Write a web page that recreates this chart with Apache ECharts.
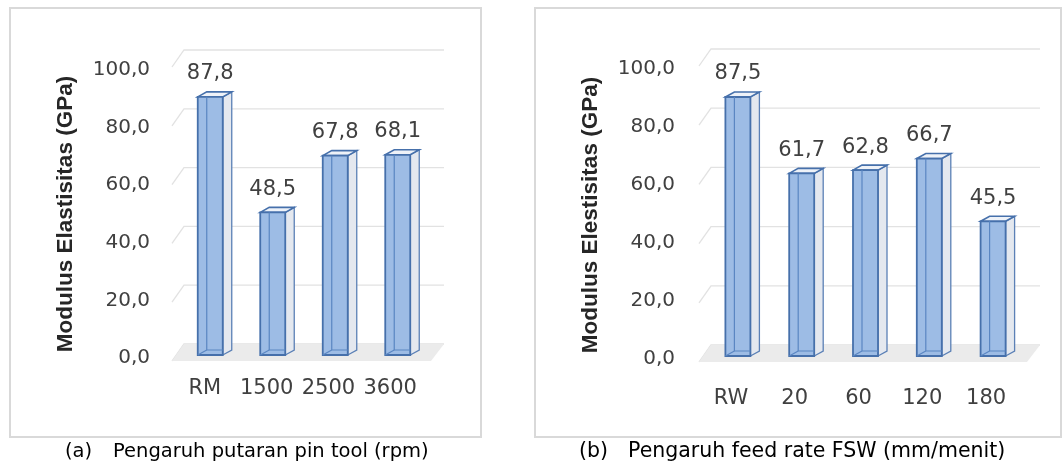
<!DOCTYPE html>
<html>
<head>
<meta charset="utf-8">
<script src="https://cdn.jsdelivr.net/npm/echarts@6/dist/echarts.min.js"></script>
<style>
html,body{margin:0;padding:0;background:#fff;}
#c{width:1062px;height:466px;}
</style>
</head>
<body>
<div id="c"></div>
<script>
// ---- data ----
const catsA = ['RM', '1500', '2500', '3600'];
const valsA = [87.8, 48.5, 67.8, 68.1];
const catsB = ['RW', '20', '60', '120', '180'];
const valsB = [87.5, 61.7, 62.8, 66.7, 45.5];
const yTicks = [0, 20, 40, 60, 80, 100];
const yMin = 0, yMax = 100, yStep = 20;
const titleA = 'Modulus Elastisitas (GPa)';
const titleB = 'Modulus Elestisitas (GPa)';
const capA = ['(a)', 'Pengaruh putaran pin tool (rpm)'];
const capB = ['(b)', 'Pengaruh feed rate FSW (mm/menit)'];

// ---- style ----
const NUMFONT = 'DejaVu Sans';
const TXT = '#404040';
const fmt = v => Number(v).toFixed(1).replace('.', ',');

function renderFloor(params, api) {
  const cs = params.coordSys;
  const y0 = api.coord([0, 0])[1];
  const L = cs.x, R = cs.x + cs.width;
  return {
    type: 'polygon',
    shape: { points: [[L - 7, y0 + 6], [R + 2, y0 + 6], [R + 15, y0 - 11], [L + 5, y0 - 11]] },
    style: { fill: '#ebebeb', stroke: null }
  };
}

function renderGrid(params, api) {
  const cs = params.coordSys;
  const y = api.coord([0, api.value(1)])[1];
  const L = cs.x, R = cs.x + cs.width;
  return {
    type: 'polyline',
    shape: { points: [[L - 7, y + 6], [L + 5, y - 11], [R + 15, y - 11]] },
    style: { stroke: '#e2e2e2', lineWidth: 1.3, fill: null }
  };
}

function renderBar(params, api) {
  const i = api.value(0), v = api.value(1);
  const top = api.coord([i, v]);
  const base = api.coord([i, 0]);
  const c = top[0], yT = top[1], y0 = base[1];
  const hw = 12.5, dx = 9, dy = 5;
  const L = c - hw, R = c + hw;
  const blue = '#4670ab';
  return {
    type: 'group',
    children: [
      { type: 'polygon', shape: { points: [[R, yT], [R + dx, yT - dy], [R + dx, y0 - dy], [R, y0]] },
        style: { fill: '#e4e8ef', stroke: '#5b80b6', lineWidth: 1.3 } },
      { type: 'polygon', shape: { points: [[L, yT], [L + dx, yT - dy], [R + dx, yT - dy], [R, yT]] },
        style: { fill: '#eef2f8', stroke: blue, lineWidth: 1.6 } },
      { type: 'rect', shape: { x: L, y: yT, width: 2 * hw, height: y0 - yT },
        style: { fill: '#9dbce5', stroke: blue, lineWidth: 1.8 } },
      { type: 'polyline', shape: { points: [[L + dx, yT], [L + dx, y0 - dy], [R, y0 - dy]] },
        style: { stroke: '#5a86c2', lineWidth: 1.2, fill: null } },
      { type: 'line', shape: { x1: L, y1: y0, x2: L + dx, y2: y0 - dy },
        style: { stroke: '#5a86c2', lineWidth: 1.2 } },
      { type: 'text', style: { text: fmt(v), x: c, y: yT - 23, align: 'center', verticalAlign: 'middle',
        fontSize: 21, fontFamily: NUMFONT, fill: TXT } }
    ]
  };
}

function labelAxes(cats, xi, margin) {
  return {
    gridIndex: xi, type: 'category', data: cats,
    axisLine: { show: false }, axisTick: { show: false }, splitLine: { show: false },
    axisLabel: { margin: margin, fontSize: 21, fontFamily: NUMFONT, color: TXT, interval: 0 }
  };
}
function labelY(gi) {
  return {
    gridIndex: gi, type: 'value', min: yMin, max: yMax, interval: yStep,
    axisLine: { show: false }, axisTick: { show: false }, splitLine: { show: false },
    axisLabel: { margin: 24, fontSize: 20, fontFamily: NUMFONT, color: TXT, formatter: fmt }
  };
}
function hiddenY(gi) {
  return { gridIndex: gi, type: 'value', min: yMin, max: yMax, interval: yStep, show: false, splitLine: { show: false } };
}

const chart = echarts.init(document.getElementById('c'), null, { renderer: 'canvas' });
chart.setOption({
  animation: false,
  backgroundColor: '#ffffff',
  grid: [
    { left: 179, top: 61, width: 250, height: 294 },
    { left: 174, top: 70, width: 247, height: 288 },
    { left: 706, top: 60, width: 319, height: 296 },
    { left: 699, top: 69, width: 319, height: 290 }
  ],
  xAxis: [
    { gridIndex: 0, type: 'category', data: catsA, show: false },
    labelAxes(catsA, 1, 20),
    { gridIndex: 2, type: 'category', data: catsB, show: false },
    labelAxes(catsB, 3, 29)
  ],
  yAxis: [hiddenY(0), labelY(1), hiddenY(2), labelY(3)],
  series: [
    { type: 'custom', xAxisIndex: 0, yAxisIndex: 0, renderItem: renderGrid, data: yTicks.map(v => [0, v]), silent: true, z: 1 },
    { type: 'custom', xAxisIndex: 0, yAxisIndex: 0, renderItem: renderFloor, data: [[0, 0]], silent: true, z: 2 },
    { type: 'custom', xAxisIndex: 0, yAxisIndex: 0, renderItem: renderBar, data: valsA.map((v, i) => [i, v]), silent: true, z: 3 },
    { type: 'custom', xAxisIndex: 2, yAxisIndex: 2, renderItem: renderGrid, data: yTicks.map(v => [0, v]), silent: true, z: 1 },
    { type: 'custom', xAxisIndex: 2, yAxisIndex: 2, renderItem: renderFloor, data: [[0, 0]], silent: true, z: 2 },
    { type: 'custom', xAxisIndex: 2, yAxisIndex: 2, renderItem: renderBar, data: valsB.map((v, i) => [i, v]), silent: true, z: 3 }
  ],
  graphic: [
    { type: 'rect', shape: { x: 10, y: 8, width: 471, height: 429 }, style: { fill: null, stroke: '#d9d9d9', lineWidth: 2 }, z: 0 },
    { type: 'rect', shape: { x: 535, y: 8, width: 526, height: 429 }, style: { fill: null, stroke: '#d9d9d9', lineWidth: 2 }, z: 0 },
    { type: 'text', x: 66, y: 214, rotation: Math.PI / 2,
      style: { text: titleA, align: 'center', verticalAlign: 'middle', fontSize: 22.5, fontWeight: 'bold', fontFamily: 'Liberation Sans', fill: '#262626' } },
    { type: 'text', x: 591, y: 215, rotation: Math.PI / 2,
      style: { text: titleB, align: 'center', verticalAlign: 'middle', fontSize: 22.5, fontWeight: 'bold', fontFamily: 'Liberation Sans', fill: '#262626' } },
    { type: 'text', x: 65, y: 452, style: { text: capA[0], verticalAlign: 'middle', fontSize: 19.5, fontFamily: NUMFONT, fill: '#000' } },
    { type: 'text', x: 113, y: 452, style: { text: capA[1], verticalAlign: 'middle', fontSize: 19.5, fontFamily: NUMFONT, fill: '#000' } },
    { type: 'text', x: 579, y: 452, style: { text: capB[0], verticalAlign: 'middle', fontSize: 20.5, fontFamily: NUMFONT, fill: '#000' } },
    { type: 'text', x: 628, y: 452, style: { text: capB[1], verticalAlign: 'middle', fontSize: 20.5, fontFamily: NUMFONT, fill: '#000' } }
  ]
});
</script>
</body>
</html>
